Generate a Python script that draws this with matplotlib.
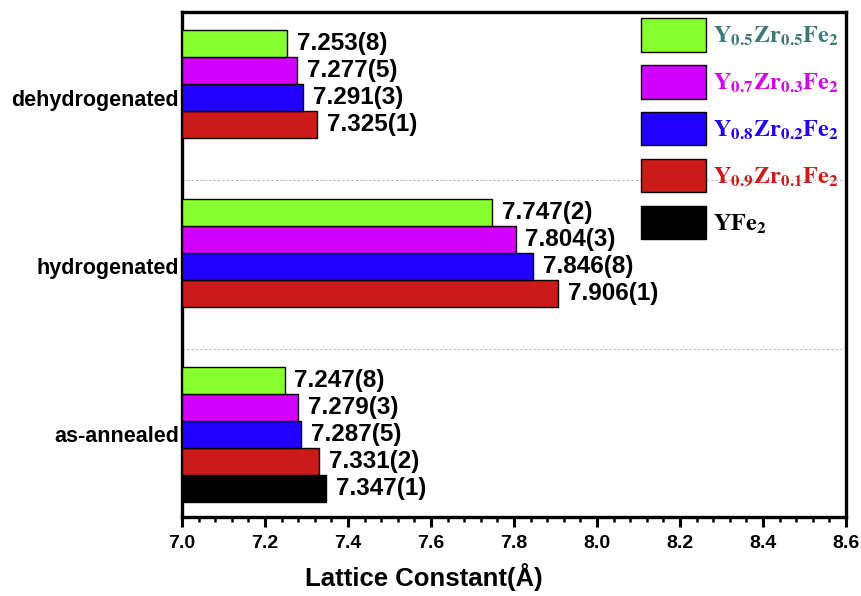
import numpy as np
import matplotlib
matplotlib.use("Agg")
import matplotlib.pyplot as plt
from matplotlib.patches import Patch
from matplotlib.ticker import MultipleLocator

plt.rcParams['mathtext.fontset'] = 'stix'

groups = ['as-annealed', 'hydrogenated', 'dehydrogenated']

# series from bottom to top inside each group
series = ['YFe2', 'Y0.9Zr0.1Fe2', 'Y0.8Zr0.2Fe2', 'Y0.7Zr0.3Fe2', 'Y0.5Zr0.5Fe2']
legend_labels = [r'$\mathbf{YFe_2}$',
                 r'$\mathbf{Y_{0.9}Zr_{0.1}Fe_2}$',
                 r'$\mathbf{Y_{0.8}Zr_{0.2}Fe_2}$',
                 r'$\mathbf{Y_{0.7}Zr_{0.3}Fe_2}$',
                 r'$\mathbf{Y_{0.5}Zr_{0.5}Fe_2}$']

yfe2 = [7.347, np.nan, np.nan]
y09 = [7.331, 7.906, 7.325]
y08 = [7.287, 7.846, 7.291]
y07 = [7.279, 7.804, 7.277]
y05 = [7.247, 7.747, 7.253]

yfe2_txt = ['7.347(1)', '', '']
y09_txt = ['7.331(2)', '7.906(1)', '7.325(1)']
y08_txt = ['7.287(5)', '7.846(8)', '7.291(3)']
y07_txt = ['7.279(3)', '7.804(3)', '7.277(5)']
y05_txt = ['7.247(8)', '7.747(2)', '7.253(8)']

values = [yfe2, y09, y08, y07, y05]
texts = [yfe2_txt, y09_txt, y08_txt, y07_txt, y05_txt]

bar_colors = ['#000000', '#CC1A1A', '#2200FF', '#D400FF', '#86FF2E']
text_colors = ['#000000', '#CC1A1A', '#2200EE', '#D400E8', '#3E7A78']

sans = ['Liberation Sans', 'DejaVu Sans']

fig = plt.figure(figsize=(8.61, 5.96), dpi=100)
ax = fig.add_axes([0.2114, 0.1326, 0.7712, 0.8473])

h = 0.16
base = np.arange(len(groups))
for k in range(len(series)):
    pos = base + 0.17 + k * h
    v = np.array(values[k])
    ax.barh(pos, v - 7.0, left=7.0, height=h, color=bar_colors[k],
            edgecolor='black', linewidth=1.0, zorder=3)
    for i in range(len(groups)):
        if texts[k][i]:
            ax.annotate(texts[k][i], (v[i], pos[i]), xytext=(7, 0),
                        textcoords='offset points', va='center', ha='left',
                        fontsize=17.5, fontweight='bold', family=sans)

for yy in [1, 2]:
    ax.axhline(yy, color='#BBBBBB', linestyle=(0, (2, 2)), linewidth=0.8, zorder=1)

ax.set_xlim(7.0, 8.6)
ax.set_ylim(0, 3)
ax.xaxis.set_major_locator(MultipleLocator(0.2))
ax.xaxis.set_minor_locator(MultipleLocator(0.04))
ax.set_yticks(base + 0.49)
ax.set_yticklabels(groups, fontsize=15.5, fontweight='bold', family=sans)
ax.tick_params(axis='y', length=0, pad=2)
ax.tick_params(axis='x', which='major', direction='out', length=7, width=2.2, pad=6)
ax.tick_params(axis='x', which='minor', direction='out', length=3.5, width=1.8)
for lab in ax.get_xticklabels():
    lab.set_family(sans)
    lab.set_fontsize(14)
    lab.set_fontweight('bold')

for sp in ax.spines.values():
    sp.set_linewidth(2.4)

ax.set_xlabel('Lattice Constant(Å)', fontsize=18.5, fontweight='bold',
              family=sans, labelpad=12)
ax.xaxis.set_label_coords(0.364, -0.092)

handles = [Patch(facecolor=bar_colors[k], edgecolor='black', linewidth=1.0)
           for k in range(len(series))][::-1]
leg = ax.legend(handles, legend_labels[::-1], loc='upper right', frameon=False,
                fontsize=17.5, handlelength=2.66, handleheight=1.74,
                labelspacing=0.55, handletextpad=0.3, borderpad=0.2,
                borderaxespad=0.0, bbox_to_anchor=(0.997, 0.997),
                labelcolor=text_colors[::-1])

fig.savefig('out.png', dpi=100)
